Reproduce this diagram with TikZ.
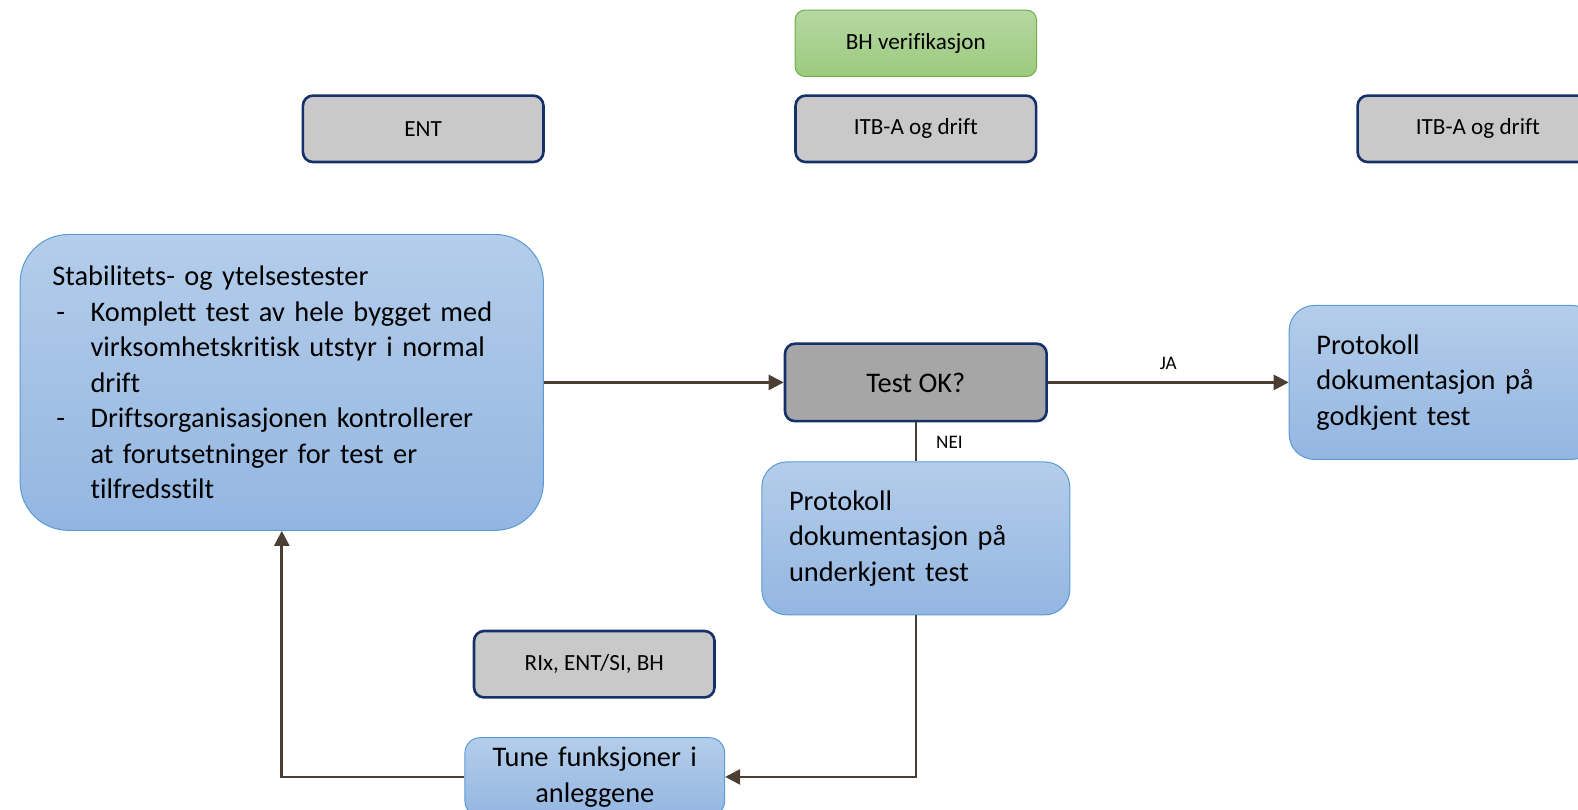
\documentclass[tikz,border=0pt]{standalone}
\usepackage{fontspec}
\setmainfont{Carlito}[Ligatures=NoCommon]
\usetikzlibrary{arrows.meta}
\definecolor{navy}{HTML}{16306A}
\definecolor{grayA}{HTML}{C9C9C9}
\definecolor{grayB}{HTML}{A6A6A6}
\definecolor{blueT}{HTML}{B4CDEA}
\definecolor{blueB}{HTML}{93B6E1}
\definecolor{blueD}{HTML}{5B9BD5}
\definecolor{greenT}{HTML}{B6D7A2}
\definecolor{greenB}{HTML}{9CCA7F}
\definecolor{greenD}{HTML}{70AD47}
\definecolor{brown}{HTML}{4B3E33}
\begin{document}
\begin{tikzpicture}[x=1pt,y=-1pt,
  role/.style={draw=navy, line width=2.6pt, fill=grayA, rounded corners=10pt,
    minimum width=239pt, minimum height=66pt, inner sep=0pt,
    font=\fontsize{23}{28}\selectfont},
  proc/.style={draw=blueD, line width=1pt, top color=blueT, bottom color=blueB,
    inner sep=0pt, align=left, font=\fontsize{28.2}{35.3}\selectfont},
  conn/.style={draw=brown, line width=2.6pt, -{Triangle[length=15pt,width=15pt]}},
  plain/.style={draw=brown, line width=2.6pt},
  lbl/.style={font=\fontsize{19}{22}\selectfont, inner sep=0pt}
]
\useasboundingbox (0,0) rectangle (1568,804);

\node[draw=greenD, line width=1pt, top color=greenT, bottom color=greenB,
  rounded corners=10pt, minimum width=240pt, minimum height=66pt, inner sep=0pt,
  font=\fontsize{23}{28}\selectfont] (bh) at (910,43) {BH verifikasjon};
\node[role] (ent) at (420.5,128) {ENT};
\node[role] (itb1) at (910,128) {ITB-A og drift};
\node[role] (itb2) at (1468.5,128) {ITB-A og drift};
\node[role] (rix) at (590.5,660) {RIx, ENT/SI, BH};

\node[proc, rounded corners=48pt, minimum width=520pt, minimum height=294pt,
  text width=456pt, inner xsep=32pt] (stab) at (280,380) {Stabilitets- og ytelsestester\\
\makebox[38pt][l]{\hspace{4pt}-}Komplett test av hele bygget med\\
\hspace*{38pt}virksomhetskritisk utstyr i normal\\
\hspace*{38pt}drift\\
\makebox[38pt][l]{\hspace{4pt}-}Driftsorganisasjonen kontrollerer\\
\hspace*{38pt}at forutsetninger for test er\\
\hspace*{38pt}tilfredsstilt};

\node[role, fill=grayB, minimum width=260pt, minimum height=77pt,
  font=\fontsize{28.2}{35}\selectfont] (test) at (910,380) {Test OK?};

\node[proc, rounded corners=25pt, minimum width=306pt, minimum height=152pt,
  text width=252pt, inner xsep=27pt] (under) at (910,535) {Protokoll\\dokumentasjon på\\underkjent test};

\node[proc, rounded corners=25pt, minimum width=306pt, minimum height=153pt,
  text width=252pt, inner xsep=27pt] (god) at (1434,380) {Protokoll\\dokumentasjon på\\godkjent test};

\node[proc, rounded corners=15pt, minimum width=258pt, minimum height=78pt,
  text width=258pt, align=center] (tune) at (591,772) {Tune funksjoner i\\anleggene};

\draw[conn] (stab.east) -- (test.west);
\draw[conn] (test.east) -- node[lbl, above=11pt] {JA} (god.west);
\draw[plain] (test.south) -- node[lbl, right=19pt] {NEI} (under.north);
\draw[conn] (under.south) |- (tune.east);
\draw[conn] (tune.west) -| (stab.south);
\end{tikzpicture}
\end{document}
